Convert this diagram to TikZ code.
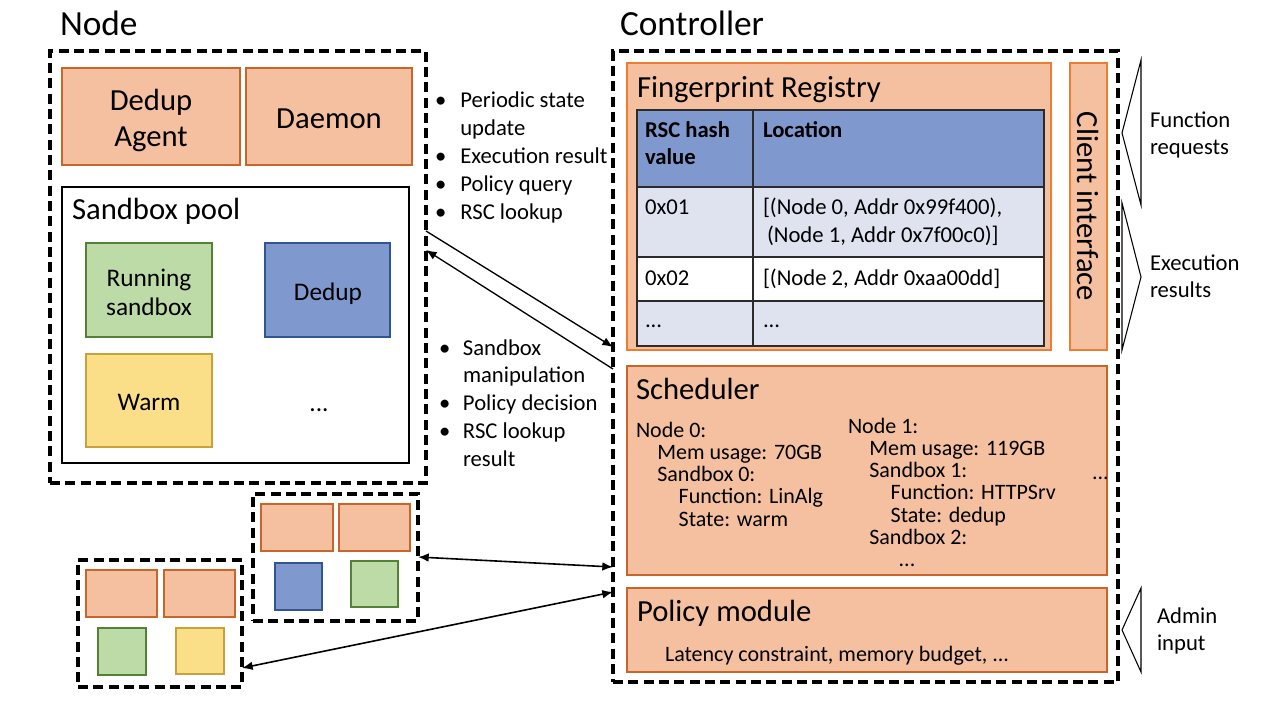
\documentclass[tikz,border=0pt]{standalone}
\usepackage{fontspec}
\setmainfont{Carlito}
\usetikzlibrary{fit,arrows.meta}
\definecolor{orfill}{HTML}{F4C09F}
\definecolor{orline}{HTML}{C8652A}
\definecolor{orbright}{HTML}{ED7D31}
\definecolor{grfill}{HTML}{BDDBA7}
\definecolor{grline}{HTML}{548235}
\definecolor{blfill}{HTML}{7F98CE}
\definecolor{blline}{HTML}{2F5597}
\definecolor{yefill}{HTML}{FBDF88}
\definecolor{yeline}{HTML}{C9A13A}
\definecolor{rowfill}{HTML}{DFE3F0}
\definecolor{tabline}{HTML}{2B2B2B}
\newcommand\fsTitle{\fontsize{26.5}{30}\selectfont}
\newcommand\fsBox{\fontsize{23}{27}\selectfont}
\newcommand\fsSb{\fontsize{19}{21.75}\selectfont}
\newcommand\fsMid{\fontsize{17}{20.85}\selectfont}
\newcommand\fsSched{\fontsize{16.5}{16.7}\selectfont}
\tikzset{
  every node/.style={inner sep=0pt, outer sep=0pt},
  dbox/.style={draw=black, line width=2.3pt, dash pattern=on 7.5pt off 4pt},
  obox/.style={draw=orline, fill=orfill, line width=1pt},
  obright/.style={draw=orbright, fill=orfill, line width=1.2pt},
  gbox/.style={draw=grline, fill=grfill, line width=1pt},
  bbox/.style={draw=blline, fill=blfill, line width=1pt},
  ybox/.style={draw=yeline, fill=yefill, line width=1pt},
  pool/.style={draw=black, line width=1.5pt},
  tcell/.style={draw=tabline, line width=1.3pt},
  txt/.style={anchor=base west},
  arr/.style={-{Latex[length=8pt,width=6.5pt]}, line width=1pt},
  darr/.style={{Latex[length=8pt,width=6.5pt]}-{Latex[length=8pt,width=6.5pt]}, line width=1.2pt},
  tri/.style={draw=black, line width=0.8pt},
}
\begin{document}
\begin{tikzpicture}[x=0.75pt,y=-0.75pt]
\useasboundingbox (0,0) rectangle (1280,710);

% ---------- Node ----------
\node[txt] (nodetitle) at (60,36) {\fsTitle Node};
\node[dbox, fit={(50,51) (426,483)}] (nodebox) {};
\node[obox, fit={(62,68) (240,165)}] (agent) {};
\node[anchor=base] (agentlbl) at (151,110) {\fontsize{23}{27}\selectfont\begin{tabular}[t]{@{}c@{}}Dedup\\Agent\end{tabular}};
\node[obox, fit={(246,68) (412,165)}] (daemon) {};
\node[anchor=base] (daemonlbl) at (329,128) {\fsBox Daemon};
\node[pool, fit={(62,187) (409,463)}] (pool) {};
\node[txt] (pooltitle) at (72,219) {\fsBox Sandbox pool};
\node[gbox, fit={(86,243) (212,337)}] (running) {};
\node[anchor=base] (runninglbl) at (149,286) {\fsSb\begin{tabular}[t]{@{}c@{}}Running\\sandbox\end{tabular}};
\node[bbox, fit={(265,243) (390,337)}] (dedup) {};
\node[anchor=base] (deduplbl) at (328,300) {\fsSb Dedup};
\node[ybox, fit={(86,354) (212,447)}] (warm) {};
\node[anchor=base] (warmlbl) at (149,410) {\fsSb Warm};
\node[anchor=base] (pooldots) at (319,411) {\fsSb ...};

% ---------- message lists ----------
\node[txt] (uplist) at (435,108) {\fsMid\begin{tabular}[t]{@{}p{19pt}@{}l@{}}
\textbullet & Periodic state\\
 & update\\
\textbullet & Execution result\\
\textbullet & Policy query\\
\textbullet & RSC lookup
\end{tabular}};
\node[txt] (downlist) at (439,355) {\fsMid\begin{tabular}[t]{@{}p{18pt}@{}l@{}}
\textbullet & Sandbox\\
 & manipulation\\
\textbullet & Policy decision\\
\textbullet & RSC lookup\\
 & result
\end{tabular}};

% ---------- Controller ----------
\node[txt] (ctrltitle) at (620,36) {\fsTitle Controller};
\node[dbox, fit={(613,51) (1118,682)}] (ctrl) {};
\node[obright, fit={(627,63) (1051,350)}] (fpr) {};
\node[txt] (fprtitle) at (637,97) {\fsBox Fingerprint Registry};

% table
\node[tcell, fill=blfill, fit={(637,110) (753,187)}] (h1) {};
\node[tcell, fill=blfill, fit={(753,110) (1044,187)}] (h2) {};
\node[tcell, fill=rowfill, fit={(637,187) (753,257)}] (r1a) {};
\node[tcell, fill=rowfill, fit={(753,187) (1044,257)}] (r1b) {};
\node[tcell, fill=white, fit={(637,257) (753,301)}] (r2a) {};
\node[tcell, fill=white, fit={(753,257) (1044,301)}] (r2b) {};
\node[tcell, fill=rowfill, fit={(637,301) (753,346)}] (r3a) {};
\node[tcell, fill=rowfill, fit={(753,301) (1044,346)}] (r3b) {};
\node[txt] (h1t) at (645,137) {\fontsize{17}{20.3}\selectfont\bfseries\begin{tabular}[t]{@{}l@{}}RSC hash\\value\end{tabular}};
\node[txt] (h2t) at (763,137) {\fsMid\bfseries Location};
\node[txt] (r1at) at (645,214) {\fsMid 0x01};
\node[txt] (r1bt) at (763,214) {\fontsize{17}{21}\selectfont\begin{tabular}[t]{@{}l@{}}[(Node 0, Addr 0x99f400),\\\hspace*{3pt}(Node 1, Addr 0x7f00c0)]\end{tabular}};
\node[txt] (r2at) at (645,285) {\fsMid 0x02};
\node[txt] (r2bt) at (763,285) {\fsMid [(Node 2, Addr 0xaa00dd]};
\node[txt] (r3at) at (645,327) {\fsMid ...};
\node[txt] (r3bt) at (763,327) {\fsMid ...};

\node[obright, fit={(1070,63) (1107,350)}] (client) {};
\node[rotate=-90] (clientlbl) at (client.center) {\fsBox Client interface};

\node[obox, fit={(627,366) (1107,575)}] (sched) {};
\node[txt] (schedtitle) at (636,399) {\fsBox Scheduler};
\node[txt] (schedleft) at (636,437) {\fsSched\begin{tabular}[t]{@{}l@{}}
Node 0:\\
\hspace*{16pt}Mem usage: 70GB\\
\hspace*{16pt}Sandbox 0:\\
\hspace*{32pt}Function: LinAlg\\
\hspace*{32pt}State: warm
\end{tabular}};
\node[txt] (schedright) at (848,433) {\fsSched\begin{tabular}[t]{@{}l@{}}
Node 1:\\
\hspace*{16pt}Mem usage: 119GB\\
\hspace*{16pt}Sandbox 1:\\
\hspace*{32pt}Function: HTTPSrv\\
\hspace*{32pt}State: dedup\\
\hspace*{16pt}Sandbox 2:\\
\hspace*{38pt}...
\end{tabular}};
\node[txt] (scheddots) at (1092,479) {\fsSched ...};

\node[obox, fit={(627,588) (1107,672)}] (policy) {};
\node[txt] (policytitle) at (637,621) {\fsBox Policy module};
\node[txt] (policytext) at (665,661) {\fsSched Latency constraint, memory budget, ...};

% ---------- external inputs ----------
\draw[tri] (1141,60) -- (1122,133) -- (1141,205) -- cycle;
\draw[tri] (1122,203) -- (1141,277) -- (1122,350) -- cycle;
\draw[tri] (1141,588) -- (1122,630) -- (1141,672) -- cycle;
\node[txt] (freq) at (1150,127) {\fontsize{17}{20.3}\selectfont\begin{tabular}[t]{@{}l@{}}Function\\requests\end{tabular}};
\node[txt] (eres) at (1150,270) {\fontsize{17}{20.3}\selectfont\begin{tabular}[t]{@{}l@{}}Execution\\results\end{tabular}};
\node[txt] (admin) at (1157,623) {\fontsize{17}{20.3}\selectfont\begin{tabular}[t]{@{}l@{}}Admin\\input\end{tabular}};

% ---------- other nodes ----------
\node[dbox, fit={(253,494) (418,621)}] (nodeA) {};
\node[obox, fit={(261,504) (333,551)}] (nA1) {};
\node[obox, fit={(339,504) (410,551)}] (nA2) {};
\node[bbox, fit={(275,563) (322,610)}] (nA3) {};
\node[gbox, fit={(351,561) (398,607)}] (nA4) {};

\node[dbox, fit={(78,560) (242,687)}] (nodeB) {};
\node[obox, fit={(86,570) (157,617)}] (nB1) {};
\node[obox, fit={(164,570) (235,617)}] (nB2) {};
\node[gbox, fit={(98,628) (146,675)}] (nB3) {};
\node[ybox, fit={(176,628) (224,674)}] (nB4) {};

% ---------- connectors ----------
\draw[arr] (nodebox.east |- 0,231) -- (ctrl.west |- 0,347);
\draw[arr] (ctrl.west |- 0,369) -- (nodebox.east |- 0,250);
\draw[darr] (nodeA.east |- 0,557) -- (ctrl.west |- 0,567);
\draw[darr] (nodeB.east |- 0,668) -- (ctrl.west |- 0,592);
\end{tikzpicture}
\end{document}
